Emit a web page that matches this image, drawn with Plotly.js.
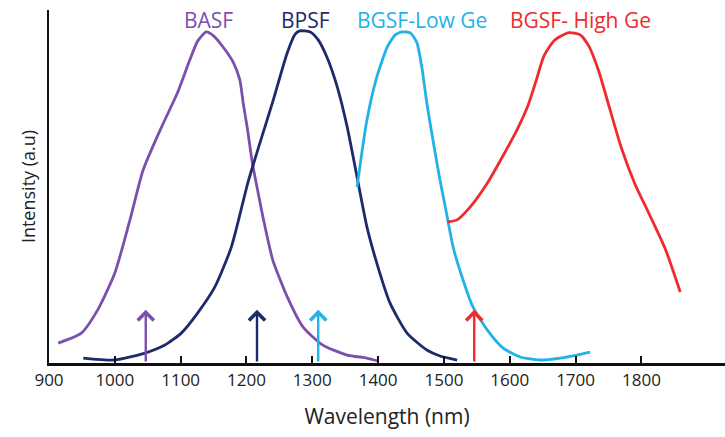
<!DOCTYPE html>
<html>
<head>
<meta charset="utf-8">
<script src="https://cdn.plot.ly/plotly-3.0.1.min.js"></script>
<style>html,body{margin:0;padding:0;background:#fff;}#chart{width:725px;height:437px;}</style>
</head>
<body>
<div id="chart"></div>
<script>
// Wavelength (nm) and normalised intensity
const basfX = [914, 949, 974, 1000, 1023, 1043, 1069, 1095, 1114, 1126, 1139, 1150, 1165, 1180, 1190, 1195, 1201, 1209, 1216, 1225, 1240, 1262, 1286, 1316, 1353, 1383, 1400];
const basfY = [0.060, 0.090, 0.160, 0.271, 0.431, 0.581, 0.702, 0.813, 0.913, 0.970, 0.997, 0.985, 0.950, 0.905, 0.852, 0.783, 0.711, 0.602, 0.530, 0.440, 0.310, 0.199, 0.108, 0.054, 0.024, 0.015, 0.006];

const bpsfX = [952, 1000, 1046, 1076, 1101, 1126, 1152, 1177, 1202, 1220, 1240, 1262, 1274, 1281, 1297, 1309, 1322, 1338, 1353, 1368, 1383, 1398, 1418, 1444, 1474, 1494, 1520];
const bpsfY = [0.015, 0.009, 0.030, 0.054, 0.090, 0.151, 0.229, 0.349, 0.542, 0.660, 0.787, 0.934, 0.990, 1.000, 0.997, 0.973, 0.922, 0.831, 0.711, 0.560, 0.410, 0.301, 0.181, 0.090, 0.039, 0.021, 0.009];

const lowGeX = [1368, 1383, 1398, 1414, 1426, 1436, 1449, 1459, 1467, 1474, 1484, 1494, 1505, 1514, 1529, 1544, 1566, 1590, 1616, 1646, 1677, 1702, 1722];
const lowGeY = [0.530, 0.732, 0.861, 0.952, 0.988, 0.997, 0.994, 0.964, 0.883, 0.783, 0.663, 0.551, 0.440, 0.349, 0.250, 0.169, 0.099, 0.045, 0.018, 0.009, 0.015, 0.024, 0.033];

const highGeX = [1505, 1520, 1540, 1566, 1590, 1611, 1628, 1640, 1652, 1668, 1690, 1707, 1720, 1735, 1752, 1770, 1790, 1812, 1836, 1859];
const highGeY = [0.425, 0.431, 0.470, 0.542, 0.625, 0.702, 0.777, 0.850, 0.925, 0.972, 0.995, 0.988, 0.955, 0.880, 0.765, 0.645, 0.540, 0.448, 0.345, 0.214];

const seriesNames = ["BASF", "BPSF", "BGSF-Low Ge", "BGSF- High Ge"];
const labelX = [1142, 1290, 1467, 1708];
const labelY = [1.033, 1.033, 1.033, 1.033];
const excitationX = [1047, 1216, 1309, 1546];
const excitationTop = 0.16;
const tickVals = [900, 1000, 1100, 1200, 1300, 1400, 1500, 1600, 1700, 1800];

const colors = ["#7b4fae", "#1d2a6c", "#22b2e8", "#ee2b2e"];
const xs = [basfX, bpsfX, lowGeX, highGeX];
const ys = [basfY, bpsfY, lowGeY, highGeY];

const traces = xs.map((x, i) => ({
  x: x, y: ys[i], type: "scatter", mode: "lines", name: seriesNames[i],
  line: {color: colors[i], width: 2.8, shape: "spline", smoothing: 0.6},
  hoverinfo: "skip"
}));

const annotations = [];
seriesNames.forEach((n, i) => {
  annotations.push({
    x: labelX[i], y: labelY[i], xref: "x", yref: "y", text: n, showarrow: false,
    font: {family: "Open Sans", size: 21, color: colors[i]}, xanchor: "center", yanchor: "middle"
  });
});
excitationX.forEach((v, i) => {
  annotations.push({
    x: v, y: excitationTop, ax: v, ay: 0, xref: "x", yref: "y", axref: "x", ayref: "y",
    text: "", showarrow: true, arrowhead: 4, arrowsize: 1.3, arrowwidth: 2.4,
    arrowcolor: colors[i], standoff: 0, startstandoff: 0
  });
});

const layout = {
  width: 725, height: 437,
  margin: {l: 49, r: 0, t: 10, b: 74},
  paper_bgcolor: "#fff", plot_bgcolor: "#fff",
  showlegend: false,
  font: {family: "Open Sans", color: "#222"},
  xaxis: {
    range: [900, 1927], showgrid: false, zeroline: false,
    showline: true, linecolor: "#111", linewidth: 2.5,
    tickvals: tickVals, ticktext: tickVals.map(String),
    ticks: "inside", ticklen: 7, tickwidth: 2, tickcolor: "#111",
    tickfont: {family: "Open Sans", size: 17, color: "#222"},
    title: {text: "Wavelength (nm)", font: {family: "Open Sans", size: 21, color: "#222"}, standoff: 20}
  },
  yaxis: {
    range: [0, 1.063], showgrid: false, zeroline: false,
    showline: true, linecolor: "#111", linewidth: 2.5,
    showticklabels: false, ticks: "",
    title: {text: "Intensity (a.u)", font: {family: "Open Sans", size: 18, color: "#222"}, standoff: 6}
  },
  annotations: annotations
};

Plotly.newPlot("chart", traces, layout, {displayModeBar: false, staticPlot: true});
</script>
</body>
</html>
